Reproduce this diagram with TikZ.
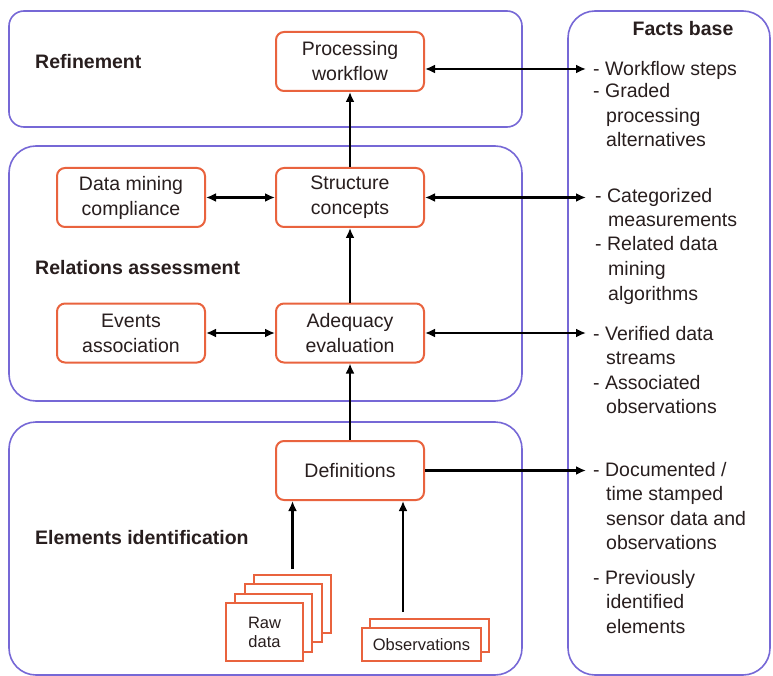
\documentclass[tikz,border=0pt]{standalone}
\usepackage{fontspec}
\setmainfont{Liberation Sans}
\usetikzlibrary{arrows.meta,calc}
\definecolor{pur}{RGB}{118,104,214}
\definecolor{org}{RGB}{233,99,62}
\definecolor{ink}{RGB}{40,30,30}
\begin{document}
\begin{tikzpicture}[x=1pt,y=-1pt,
 grp/.style={draw=pur,line width=1.6pt,rounded corners=27pt},
 obox/.style={draw=org,line width=2pt,rounded corners=8pt,fill=white,minimum width=148pt,minimum height=59pt,align=center,text=ink,font=\fontsize{19.5}{25}\selectfont,inner sep=0pt},
 sheet/.style={draw=org,line width=2pt,fill=white,inner sep=0pt,align=center,text=ink,font=\fontsize{16.5}{19}\selectfont},
 lbl/.style={anchor=base west,text=ink,font=\fontsize{19.5}{24}\selectfont\bfseries,inner sep=0pt},
 ft/.style={anchor=base west,text=ink,font=\fontsize{19.5}{24}\selectfont,inner sep=0pt},
 arr/.style={line width=2.1pt,-{Latex[length=10pt,width=9pt]}},
 dbl/.style={line width=2.1pt,{Latex[length=10pt,width=9pt]}-{Latex[length=10pt,width=9pt]}}
]
\useasboundingbox (0,0) rectangle (773,676);
% group boxes
\draw[grp,rounded corners=15pt] (9,11) rectangle (522,127);
\draw[grp] (9,146) rectangle (522,401);
\draw[grp] (9,422) rectangle (522,675);
\draw[grp] (568,11) rectangle (770,675);

% labels
\node[lbl] (l1) at (35,69) {Refinement};
\node[lbl] (l2) at (35,274) {Relations assessment};
\node[lbl] (l3) at (35,544) {Elements identification};
\node[lbl,anchor=base] (l4) at (683,36) {Facts base};

% process boxes
\node[obox] (pw) at (350,61.5) {Processing\\workflow};
\node[obox] (dm) at (131,197.5) {Data mining\\compliance};
\node[obox] (sc) at (350,197.5) {Structure\\concepts};
\node[obox] (ea) at (131,333) {Events\\association};
\node[obox] (ae) at (350,333) {Adequacy\\evaluation};
\node[obox] (df) at (350,470.5) {Definitions};

% raw data stack
\node[sheet,minimum width=77pt,minimum height=58pt] (raw3) at (292.5,604) {};
\node[sheet,minimum width=77pt,minimum height=58pt] (raw2) at (283.2,613.3) {};
\node[sheet,minimum width=77pt,minimum height=58pt] (raw1) at (273.8,622.6) {};
\node[sheet,minimum width=77pt,minimum height=58pt] (raw) at (264.5,632) {Raw\\data};

% observations stack
\node[sheet,minimum width=119pt,minimum height=33pt] (obs1) at (429,635.5) {};
\node[sheet,minimum width=119pt,minimum height=33pt] (obs) at (421.5,644.5) {Observations};

% facts text
\node[ft] (t1) at (593,76) {- Workflow steps};
\node[ft] (t2) at (593,98) {- Graded};
\node[ft] (t3) at (606,123) {processing};
\node[ft] (t4) at (606,147) {alternatives};
\node[ft] (t5) at (595,203) {- Categorized};
\node[ft] (t6) at (608,227) {measurements};
\node[ft] (t7) at (595,251) {- Related data};
\node[ft] (t8) at (608,275) {mining};
\node[ft] (t9) at (608,300) {algorithms};
\node[ft] (t10) at (593,340) {- Verified data};
\node[ft] (t11) at (606,364) {streams};
\node[ft] (t12) at (593,389) {- Associated};
\node[ft] (t13) at (606,413) {observations};
\node[ft] (t14) at (593,476) {- Documented /};
\node[ft] (t15) at (606,500) {time stamped};
\node[ft] (t16) at (606,525) {sensor data and};
\node[ft] (t17) at (606,549) {observations};
\node[ft] (t18) at (593,584) {- Previously};
\node[ft] (t19) at (606,608) {identified};
\node[ft] (t20) at (606,633) {elements};

% fact arrow ends
\coordinate (fa) at (586,69);
\coordinate (fb) at (586,197.5);
\coordinate (fc) at (586,333);
\coordinate (fd) at (586,470.5);

% connectors
\draw[dbl] (pw.east |- fa) -- (fa);
\draw[dbl] (sc.east) -- (fb);
\draw[dbl] (ae.east) -- (fc);
\draw[arr] (df.east) -- (fd);

\draw[dbl] (dm) -- (sc);
\draw[dbl] (ea) -- (ae);

\draw[arr] (sc) -- (pw);
\draw[arr] (ae) -- (sc);
\draw[arr] (df) -- (ae);

\draw[arr,shorten <=5pt] (raw3.north) -- (raw3.north |- df.south);
\coordinate (oa) at ([xshift=-26pt]obs1.north);
\draw[arr,shorten <=6pt] (oa) -- (oa |- df.south);
\end{tikzpicture}
\end{document}
